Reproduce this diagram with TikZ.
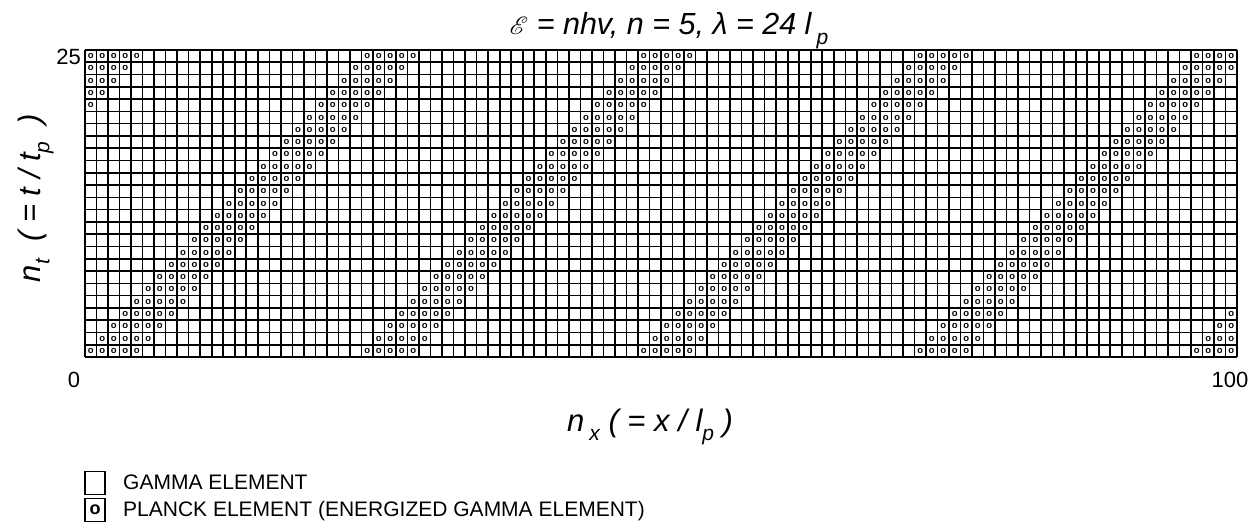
\documentclass[tikz,border=0pt]{standalone}
\usepackage{fontspec}
\setmainfont{Liberation Sans}
\usepackage{mathrsfs}
\newcommand{\lowsub}[1]{\raisebox{-0.3em}{\fontsize{21}{21}\selectfont #1}}
\begin{document}
\begin{tikzpicture}[x=1pt,y=-1pt,
  gl/.style={line width=1.6pt},
  pe/.style={font=\fontsize{9.5}{9.5}\selectfont\bfseries, inner sep=0pt},
  axlab/.style={font=\fontsize{22}{22}\selectfont, inner sep=0pt},
  ttl/.style={font=\fontsize{30.5}{30.5}\selectfont\itshape, inner sep=0pt},
  axt/.style={font=\fontsize{31}{31}\selectfont\itshape, inner sep=0pt},
  lgbox/.style={draw, line width=1.6pt, minimum width=20pt, minimum height=23pt, inner sep=0pt},
  lgtext/.style={font=\fontsize{21}{21}\selectfont, inner sep=0pt, anchor=base west}]
\useasboundingbox (0,0) rectangle (1255,527);
% grid
\foreach \i in {0,...,100} \draw[gl] ({85+\i*11.52},50) -- ({85+\i*11.52},357);
\foreach \j in {0,...,25} \draw[gl] (85,{50+\j*12.28}) -- (1237,{50+\j*12.28});
% Planck elements
\foreach \t in {0,...,24}{
 \foreach \k in {0,...,4}{
  \foreach \m in {0,...,4}{
   \pgfmathtruncatemacro{\xx}{mod(\t+\k,24)+24*\m}
   \ifnum\xx<100
     \node[pe] (o-\xx-\t) at ({85+(\xx+0.5)*11.52},{357-(\t+0.5)*12.28}) {o};
   \fi
  }}}
% title
\node[ttl, anchor=base] (title) at (669,35) {$\mathscr{E}$ = nhv, n = 5, λ = 24 l\,\lowsub{p}};
% axis numbers
\node[axlab, anchor=base east] (n25) at (81,65) {25};
\node[axlab, anchor=base] (n0) at (74,387) {0};
\node[axlab, anchor=base] (n100) at (1230,387) {100};
% axis labels
\node[axt, anchor=base] (xlab) at (650,431) {n\,\lowsub{x} ( = x / l\lowsub{p} )};
\node[axt, anchor=base, rotate=90] (ylab) at (40,198) {n\lowsub{t}\ \ ( = t / t\lowsub{p}\ \ )};
% legend
\node[lgbox] (lg1) at (95,483) {};
\node[lgbox, font=\fontsize{18}{18}\selectfont\bfseries] (lg2) at (95,510) {o};
\node[lgtext] (lt1) at (123,489) {GAMMA ELEMENT};
\node[lgtext] (lt2) at (123,516) {PLANCK ELEMENT (ENERGIZED GAMMA ELEMENT)};
\end{tikzpicture}
\end{document}
